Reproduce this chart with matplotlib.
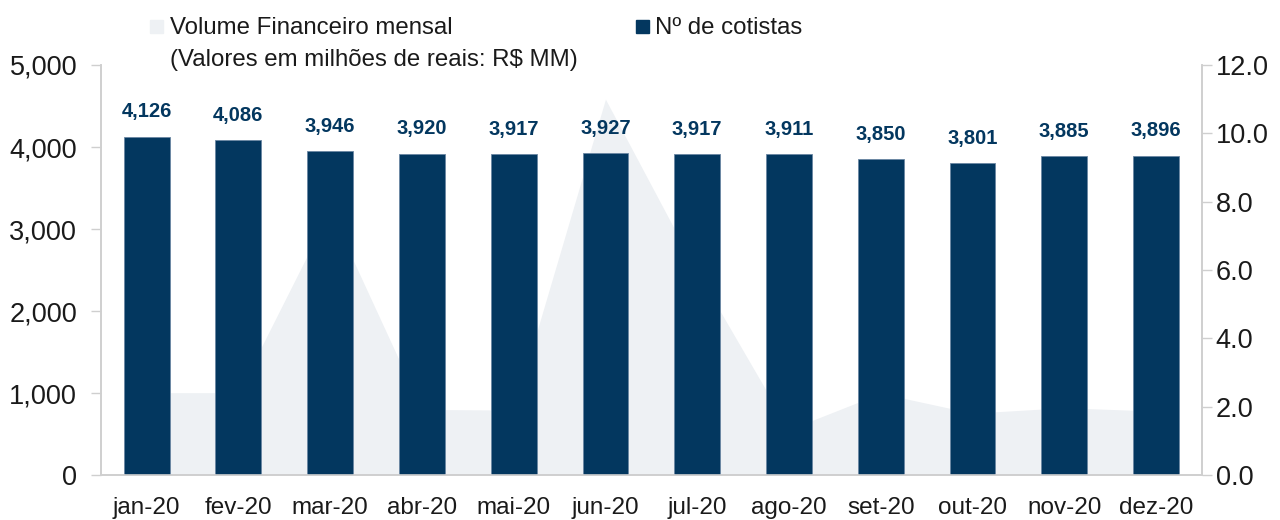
import matplotlib
matplotlib.use("Agg")
import matplotlib.pyplot as plt
import matplotlib.ticker as mticker
from matplotlib.patches import Rectangle

# ── data ─────────────────────────────────────────────────────────────────────
months = ["jan-20", "fev-20", "mar-20", "abr-20", "mai-20", "jun-20",
          "jul-20", "ago-20", "set-20", "out-20", "nov-20", "dez-20"]
cotistas = [4126, 4086, 3946, 3920, 3917, 3927, 3917, 3911, 3850, 3801, 3885, 3896]
volume_mm = [2.41, 2.41, 7.75, 1.92, 1.90, 11.0, 5.95, 1.33, 2.39, 1.81, 1.97, 1.87]

NAVY = "#03375f"
AREA = "#eef1f4"
SPINE = "#cfcfcf"
TXT = "#1a1a1a"

plt.rcParams["font.family"] = ["Liberation Sans", "DejaVu Sans"]

fig = plt.figure(figsize=(12.8, 5.2), dpi=100)
ax = fig.add_axes([0.0787, 0.0865, 0.8603, 0.7885])
ax2 = ax.twinx()

x = list(range(len(months)))

# area (right axis) sits behind the bars
ax2.fill_between(x, volume_mm, 0, color=AREA, linewidth=0)
ax2.set_ylim(0, 12)
ax2.yaxis.set_major_locator(mticker.MultipleLocator(2))
ax2.yaxis.set_major_formatter(mticker.FormatStrFormatter("%.1f"))

ax.set_zorder(ax2.get_zorder() + 1)
ax.patch.set_visible(False)

ax.bar(x, cotistas, width=0.5, color=NAVY, edgecolor="#6a86a3", linewidth=0.6)
for xi, v in zip(x, cotistas):
    ax.annotate(f"{v:,}", (xi, v), xytext=(0, 11), textcoords="offset points",
                ha="center", va="bottom", fontsize=14.5, fontweight="bold",
                color=NAVY)

ax.set_xlim(-0.5, len(months) - 0.5)
ax.set_ylim(0, 5000)
ax.yaxis.set_major_locator(mticker.MultipleLocator(1000))
ax.yaxis.set_major_formatter(mticker.StrMethodFormatter("{x:,.0f}"))
ax.set_xticks(x)
ax.set_xticklabels(months)

for a in (ax, ax2):
    for s in a.spines.values():
        s.set_color(SPINE)
        s.set_linewidth(1.2)
    a.spines["top"].set_visible(False)
ax.tick_params(axis="y", colors=SPINE, labelcolor=TXT, labelsize=19.5,
               length=7, width=1, pad=10)
ax2.tick_params(axis="y", colors=SPINE, labelcolor=TXT, labelsize=19.5,
                length=7, width=1, pad=3)
ax.tick_params(axis="x", length=0, labelsize=17.5, labelcolor=TXT, pad=16)

# legend drawn by hand, like the original
fig.patches.append(Rectangle((150 / 1280, 1 - 33 / 520), 13 / 1280, 13 / 520,
                             transform=fig.transFigure, color=AREA))
fig.text(170 / 1280, 1 - 28 / 520, "Volume Financeiro mensal",
         ha="left", va="center", fontsize=17.3, color=TXT)
fig.text(170 / 1280, 1 - 60 / 520, "(Valores em milhões de reais: R$ MM)",
         ha="left", va="center", fontsize=17.3, color=TXT)
fig.patches.append(Rectangle((636 / 1280, 1 - 33 / 520), 13 / 1280, 13 / 520,
                             transform=fig.transFigure, color=NAVY))
fig.text(655 / 1280, 1 - 28 / 520, "Nº de cotistas",
         ha="left", va="center", fontsize=17.3, color=TXT)

fig.savefig("out.png", dpi=100)
